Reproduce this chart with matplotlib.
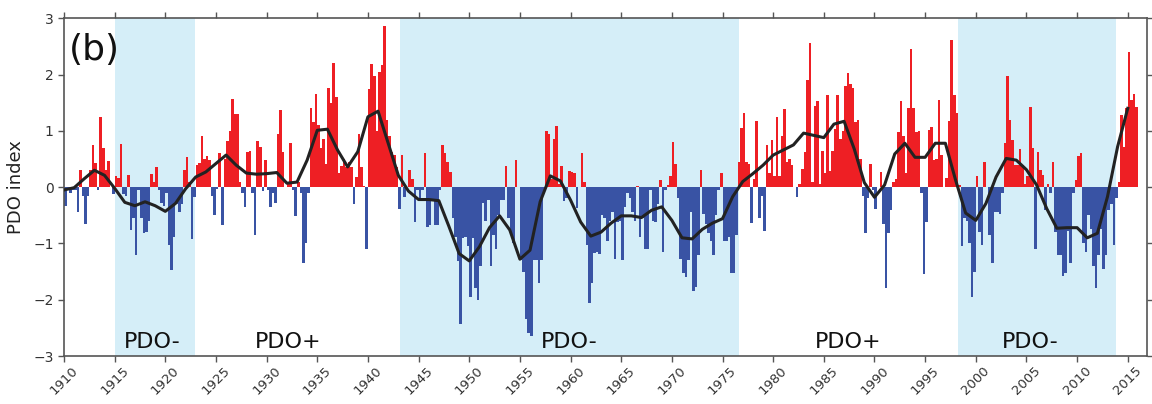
import numpy as np
import matplotlib
matplotlib.use("Agg")
import matplotlib.pyplot as plt

# Quarterly PDO index values, one list per decade (4 values per year)
pdo_1910s = [-0.33, -0.05, -0.10, -0.05, -0.05, -0.45, 0.30, -0.15, -0.65, -0.15, 0.30, 0.75,
             0.43, -0.05, 1.25, 0.70, 0.30, 0.47, 0.00, -0.13, 0.20, 0.17, 0.77, -0.13,
             -0.15, 0.22, -0.77, -0.55, -1.20, -0.05, -0.55, -0.82, -0.80, -0.60, 0.23, 0.10,
             0.36, -0.05, -0.28, -0.33]
pdo_1920s = [-0.10, -1.02, -1.48, -0.88, -0.30, -0.45, -0.30, 0.30, 0.53, 0.10, -0.93, -0.18,
             0.40, 0.43, 0.90, 0.50, 0.55, 0.48, -0.15, -0.50, -0.03, 0.60, -0.67, 0.50,
             0.82, 1.00, 1.57, 1.30, 1.30, 0.10, -0.10, -0.35, 0.62, 0.65, -0.10, -0.85,
             0.82, 0.72, -0.07, 0.48]
pdo_1930s = [-0.05, -0.35, -0.10, -0.28, 0.95, 1.37, 0.63, 0.00, 0.05, 0.78, -0.05, -0.52,
             0.10, -0.10, -1.35, -1.00, -0.10, 1.40, 1.15, 1.65, 1.10, 0.70, 0.85, 0.42,
             1.77, 1.50, 2.20, 1.60, 0.25, 0.37, 0.50, 0.35, 0.45, 0.35, -0.30, 0.18,
             0.95, 0.35, 0.02, -1.10]
pdo_1940s = [1.75, 2.18, 1.98, 1.00, 2.05, 2.17, 2.87, 1.20, 0.90, 0.62, 0.58, 0.35,
             -0.38, 0.58, -0.18, 0.00, 0.30, 0.15, -0.62, -0.05, -0.22, -0.05, 0.60, -0.70,
             -0.68, -0.22, -0.68, -0.68, -0.05, 0.75, 0.60, 0.45, 0.27, -0.55, -0.88, -1.32,
             -2.44, -0.90, -0.88, -1.05]
pdo_1950s = [-1.95, -0.90, -1.80, -2.00, -1.40, -0.28, -0.60, -0.22, -1.40, -0.85, -1.10, -0.50,
             -0.22, -0.22, 0.37, -0.55, -0.85, -1.00, 0.48, 0.00, -1.30, -1.50, -2.35, -2.60,
             -2.65, -1.30, -1.30, -1.70, -1.30, -0.10, 1.00, 0.95, 0.15, 0.85, 1.08, 0.05,
             0.37, -0.25, -0.20, 0.28]
pdo_1960s = [0.27, 0.25, -0.37, 0.00, 0.60, 0.10, -1.02, -2.05, -1.70, -1.17, -1.15, -1.19,
             -0.50, -0.55, -0.95, -0.60, -0.45, -1.28, -0.62, -0.60, -1.30, -0.35, -0.10, -0.20,
             -0.45, -0.60, 0.02, -0.88, -0.55, -1.10, -1.10, -0.05, -0.60, -0.62, -0.30, 0.12,
             -1.16, -0.05, 0.04, 0.20]
pdo_1970s = [0.80, 0.42, -0.20, -1.28, -1.52, -1.60, -1.30, -0.45, -1.85, -1.78, -1.20, 0.30,
             -0.48, -0.65, -0.82, -0.95, -1.20, -0.50, -0.05, 0.25, -0.95, -0.95, -0.88, -1.53,
             -1.53, -0.85, 0.45, 1.05, 1.32, 0.45, 0.42, -0.63, 0.15, 1.17, -0.55, -0.15,
             -0.78, 0.75, 0.25, 0.83]
pdo_1980s = [0.20, 1.25, 0.20, 0.90, 1.38, 0.45, 0.50, 0.40, 0.00, -0.18, 0.05, 0.33,
             0.63, 1.90, 2.57, 0.10, 1.45, 1.53, 0.05, 0.65, 0.25, 1.63, 0.28, 0.65,
             1.03, 1.63, 0.85, 1.00, 1.80, 2.03, 1.83, 1.77, 1.15, 1.20, 0.50, -0.15,
             -0.82, -0.20, 0.42, -0.05]
pdo_1990s = [-0.38, 0.00, 0.27, -0.65, -1.80, -0.82, -0.40, 0.10, 0.15, 0.98, 1.53, 0.90,
             0.25, 1.40, 2.45, 1.40, 0.98, 1.00, -0.10, -1.55, -0.62, 1.02, 1.07, 0.48,
             0.50, 1.55, 0.58, 0.00, 0.17, 1.17, 2.62, 1.63, 1.32, 0.03, -1.05, -0.55,
             -0.60, -1.00, -1.95, -1.50]
pdo_2000s = [0.19, -0.80, -1.03, 0.45, 0.00, -0.85, -1.35, -0.45, -0.45, -0.48, -0.10, 0.78,
             1.97, 1.20, 0.83, 0.40, 0.40, 0.68, 0.40, 0.05, 0.20, 1.43, 0.70, -1.10,
             0.63, 0.30, 0.22, -0.40, 0.05, -0.10, 0.45, -0.80, -1.20, -1.20, -1.58, -1.53,
             -0.78, -1.35, -0.10, 0.13]
pdo_2010s = [0.55, 0.60, -1.00, -1.15, -0.50, -0.75, -1.40, -1.80, -1.20, -0.75, -1.45, -1.20,
             -0.40, -0.30, -1.02, -0.20, 0.10, 1.28, 0.72, 1.40, 2.40, 1.55, 1.65, 1.42]

# Smoothed annual PDO (line), 1910-2015
smooth_years = list(range(1910, 2016))
smooth_vals = [-0.05, -0.01, 0.15, 0.30, 0.21, -0.02, -0.27, -0.33, -0.26, -0.33,
               -0.43, -0.29, -0.03, 0.18, 0.27, 0.42, 0.57, 0.39, 0.25, 0.23,
               0.24, 0.26, 0.07, 0.09, 0.48, 1.01, 1.03, 0.66, 0.36, 0.63,
               1.25, 1.35, 0.78, 0.21, -0.07, -0.22, -0.22, -0.24, -0.70, -1.18,
               -1.31, -1.06, -0.72, -0.51, -0.76, -1.28, -1.12, -0.26, 0.20, 0.11,
               -0.23, -0.62, -0.87, -0.80, -0.64, -0.51, -0.51, -0.54, -0.41, -0.35,
               -0.59, -0.90, -0.92, -0.75, -0.64, -0.56, -0.17, 0.10, 0.24, 0.39,
               0.57, 0.66, 0.75, 0.96, 0.92, 0.88, 1.12, 1.17, 0.68, 0.08,
               -0.18, 0.04, 0.59, 0.78, 0.53, 0.53, 0.78, 0.78, 0.13, -0.46,
               -0.59, -0.29, 0.18, 0.51, 0.48, 0.31, 0.04, -0.38, -0.73, -0.72,
               -0.72, -0.90, -0.82, -0.17, 0.72, 1.40]

# Phase periods
neg_phases = [(1915.0, 1922.9), (1943.2, 1976.6), (1998.2, 2013.85)]
phase_labels = ["PDO-", "PDO+", "PDO-", "PDO+", "PDO-"]
phase_label_x = [1918.7, 1932.1, 1959.85, 1987.4, 2005.4]

x_ticks = list(range(1910, 2016, 5))
y_ticks = [-3, -2, -1, 0, 1, 2, 3]

vals = np.array(pdo_1910s + pdo_1920s + pdo_1930s + pdo_1940s + pdo_1950s +
                pdo_1960s + pdo_1970s + pdo_1980s + pdo_1990s + pdo_2000s + pdo_2010s)
t = 1910 + np.arange(len(vals)) * 0.25

RED = "#ee1f24"
BLUE = "#3953a4"
SHADE = "#d5eef8"

fig = plt.figure(figsize=(11.52, 4.04), dpi=100)
ax = fig.add_axes([64 / 1152, 1 - 356 / 404, (1147 - 64) / 1152, (356 - 18.3) / 404])

for a, b in neg_phases:
    ax.axvspan(a, b, color=SHADE, lw=0, zorder=0)

colors = [RED if v >= 0 else BLUE for v in vals]
ax.bar(t, vals, width=0.25, align="edge", color=colors, linewidth=0, zorder=2)
ax.plot(smooth_years, smooth_vals, color="#222222", lw=2.2, zorder=3)

ax.set_xlim(1910, 2016.9)
ax.set_ylim(-3, 3)
ax.set_xticks(x_ticks)
ax.set_xticklabels([str(v) for v in x_ticks], rotation=45, ha="center", fontsize=9.5, color="#333333")
ax.set_yticks(y_ticks)
ax.set_yticklabels(["\u22123", "\u22122", "\u22121", "0", "1", "2", "3"], fontsize=10, color="#333333")
ax.tick_params(axis="both", direction="out", length=4, width=1, color="#555555",
               top=True, right=True)
ax.tick_params(axis="x", pad=2)
for s in ax.spines.values():
    s.set_color("#555555")
    s.set_linewidth(1.2)

ax.set_ylabel("PDO index", fontsize=13, color="#222222", labelpad=6)

for lbl, xp in zip(phase_labels, phase_label_x):
    ax.text(xp, -2.75, lbl, fontsize=16, ha="center", va="center", color="#111111", zorder=4)

ax.text(1910.5, 2.43, "(b)", fontsize=26, ha="left", va="center", color="#111111", zorder=4)

fig.savefig("out.png", dpi=100)
